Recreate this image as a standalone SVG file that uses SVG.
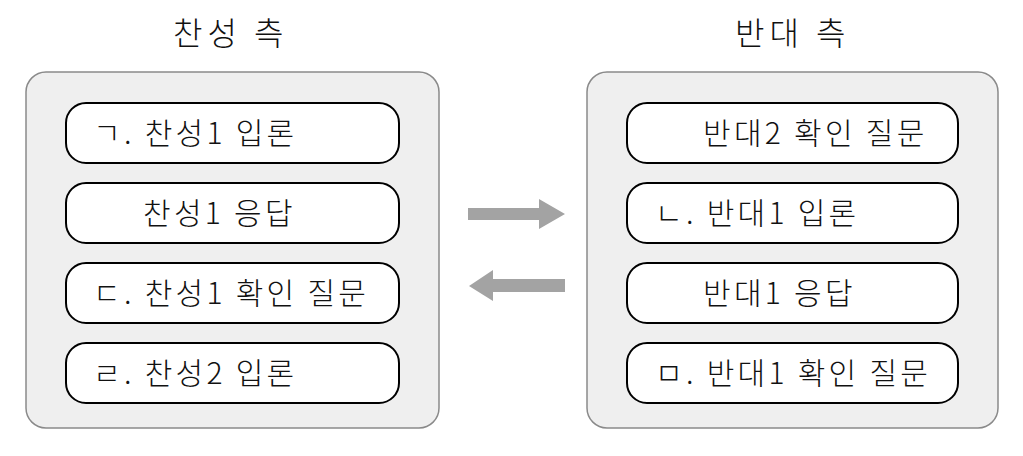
<svg xmlns="http://www.w3.org/2000/svg" width="1023" height="456" viewBox="0 0 1023 456">
<style>
.panel{fill:#efefef;stroke:#8a8a8a;stroke-width:1.5}
.box{fill:#fff;stroke:#000;stroke-width:2}
.t{font-family:"Noto Sans CJK KR","Noto Sans",sans-serif;font-size:30px;font-weight:300;letter-spacing:3.3px;fill:#111}
.h{font-family:"Noto Sans CJK KR","Noto Sans",sans-serif;font-size:32px;font-weight:300;letter-spacing:5px;fill:#111}
.arr{fill:#a3a3a3}
</style>
<rect width="1023" height="456" fill="#fff"/>
<g id="pro">
<text class="h" x="173" y="45">찬성 측</text>
<rect class="panel" x="26" y="72" width="413" height="356" rx="20"/>
<g id="pro1"><rect class="box" x="66" y="103" width="333" height="60" rx="20"/><text class="t" x="93" y="144">ㄱ. 찬성1 입론</text></g>
<g id="pro2"><rect class="box" x="66" y="183" width="333" height="60" rx="20"/><text class="t" x="143" y="224">찬성1 응답</text></g>
<g id="pro3"><rect class="box" x="66" y="263" width="333" height="60" rx="20"/><text class="t" x="93" y="304">ㄷ. 찬성1 확인 질문</text></g>
<g id="pro4"><rect class="box" x="66" y="343" width="333" height="60" rx="20"/><text class="t" x="93" y="384">ㄹ. 찬성2 입론</text></g>
</g>
<g id="con">
<text class="h" x="735" y="45">반대 측</text>
<rect class="panel" x="587" y="72" width="411" height="356" rx="20"/>
<g id="con1"><rect class="box" x="627" y="103" width="331" height="60" rx="20"/><text class="t" x="703" y="144">반대2 확인 질문</text></g>
<g id="con2"><rect class="box" x="627" y="183" width="331" height="60" rx="20"/><text class="t" x="655" y="224">ㄴ. 반대1 입론</text></g>
<g id="con3"><rect class="box" x="627" y="263" width="331" height="60" rx="20"/><text class="t" x="703" y="304">반대1 응답</text></g>
<g id="con4"><rect class="box" x="627" y="343" width="331" height="60" rx="20"/><text class="t" x="655" y="384">ㅁ. 반대1 확인 질문</text></g>
</g>
<g id="connectors">
<polygon class="arr" points="468,208 539,208 539,199 565,214 539,229 539,220 468,220"/>
<polygon class="arr" points="565,279 493,279 493,270 469,286 493,301 493,292 565,292"/>
</g>
</svg>
